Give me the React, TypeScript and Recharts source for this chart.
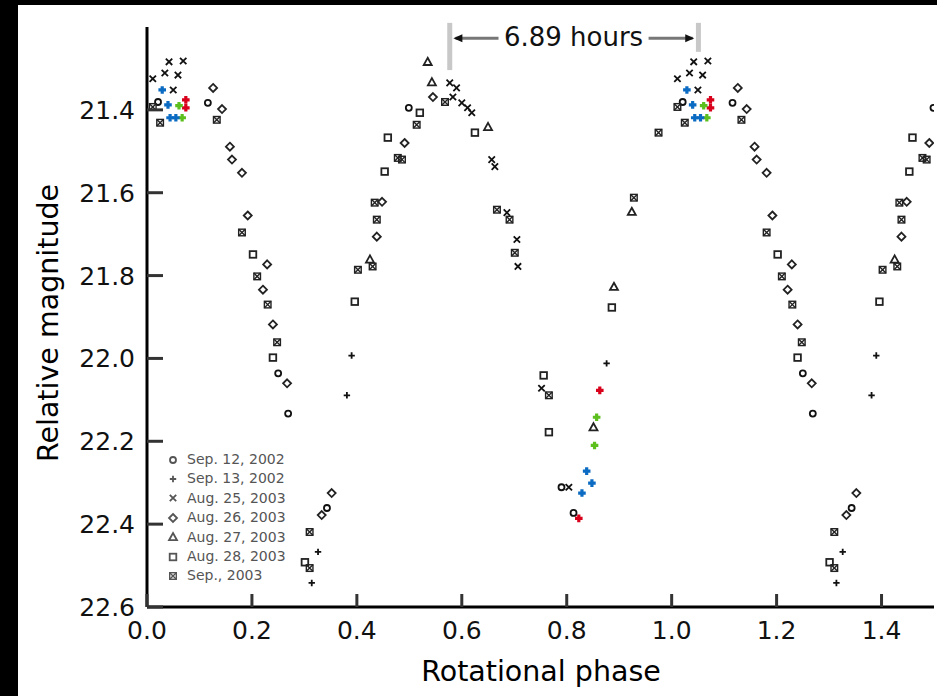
import React from 'react'
import { ScatterChart, Scatter, XAxis, YAxis, Legend, ReferenceLine, ReferenceDot } from 'recharts'

// [phase, relative magnitude] per night, folded on one rotation (0..1)
const sep12_2002: [number, number][] = [
  [0.813, 22.373], [0.269, 22.133], [0.021, 21.381], [0.116, 21.383],
  [0.343, 22.361], [0.25, 22.036], [0.499, 21.395], [0.79, 22.311],
]
const sep13_2002: [number, number][] = [
  [0.326, 22.467], [0.314, 22.542], [0.381, 22.089], [0.39, 21.993], [0.876, 22.012],
]
const aug25_2003: [number, number][] = [
  [0.042, 21.284], [0.069, 21.282], [0.034, 21.311], [0.059, 21.316], [0.011, 21.325],
  [0.05, 21.352], [0.577, 21.335], [0.59, 21.347], [0.583, 21.369], [0.6, 21.383],
  [0.611, 21.395], [0.619, 21.407], [0.657, 21.52], [0.663, 21.537], [0.686, 21.648],
  [0.705, 21.713], [0.707, 21.778], [0.752, 22.072], [0.804, 22.311],
]
const aug26_2003: [number, number][] = [
  [0.126, 21.347], [0.143, 21.398], [0.158, 21.489], [0.162, 21.52], [0.181, 21.552],
  [0.192, 21.655], [0.229, 21.773], [0.221, 21.834], [0.24, 21.918], [0.267, 22.06],
  [0.352, 22.325], [0.333, 22.378], [0.438, 21.706], [0.448, 21.622], [0.491, 21.48],
  [0.545, 21.369],
]
const aug27_2003: [number, number][] = [
  [0.535, 21.284], [0.65, 21.441], [0.851, 22.166], [0.89, 21.827], [0.924, 21.646],
  [0.543, 21.333], [0.425, 21.761],
]
const aug28_2003: [number, number][] = [
  [0.202, 21.749], [0.24, 21.998], [0.301, 22.492], [0.396, 21.863], [0.453, 21.549],
  [0.459, 21.467], [0.766, 22.178], [0.886, 21.877], [0.52, 21.407], [0.625, 21.455],
  [0.756, 22.041],
]
const sep_2003: [number, number][] = [
  [0.011, 21.393], [0.025, 21.431], [0.133, 21.424], [0.181, 21.696], [0.21, 21.802],
  [0.23, 21.87], [0.248, 21.961], [0.31, 22.419], [0.31, 22.506], [0.402, 21.786],
  [0.43, 21.778], [0.438, 21.665], [0.434, 21.624], [0.478, 21.516], [0.486, 21.52],
  [0.514, 21.436], [0.568, 21.381], [0.667, 21.641], [0.691, 21.665], [0.701, 21.745],
  [0.766, 22.089], [0.928, 21.612], [0.975, 21.455],
]
// colour highlighted points
const redPts: [number, number][] = [[0.074, 21.376], [0.074, 21.395], [0.823, 22.386], [0.863, 22.077]]
const greenPts: [number, number][] = [[0.061, 21.39], [0.067, 21.419], [0.853, 22.21], [0.857, 22.142]]
const bluePts: [number, number][] = [
  [0.029, 21.352], [0.04, 21.388], [0.044, 21.419], [0.055, 21.419],
  [0.829, 22.325], [0.848, 22.301], [0.838, 22.272],
]

const xTicks = [0, 0.2, 0.4, 0.6, 0.8, 1.0, 1.2, 1.4]
const yTicks = [21.4, 21.6, 21.8, 22.0, 22.2, 22.4, 22.6]

const legendItems = [
  { label: 'Sep. 12, 2002', kind: 'circle' },
  { label: 'Sep. 13, 2002', kind: 'plus' },
  { label: 'Aug. 25, 2003', kind: 'x' },
  { label: 'Aug. 26, 2003', kind: 'diamond' },
  { label: 'Aug. 27, 2003', kind: 'triangle' },
  { label: 'Aug. 28, 2003', kind: 'square' },
  { label: 'Sep., 2003', kind: 'boxx' },
]

const FONT = '"DejaVu Sans", sans-serif'
const MAX_PHASE = 1.5

// light curve is shown over 1.5 rotations: points repeat one phase later
const fold = (pts: [number, number][]) =>
  pts.flatMap(([p, m]) => (p + 1 <= MAX_PHASE ? [{ x: p, y: m }, { x: p + 1, y: m }] : [{ x: p, y: m }]))

function Mark({ kind, cx, cy, color = '#222' }: { kind: string; cx: number; cy: number; color?: string }) {
  const s = 3.2
  const sw = 1.8
  switch (kind) {
    case 'circle':
      return <circle cx={cx} cy={cy} r={3} fill="none" stroke={color} strokeWidth={sw} />
    case 'plus':
      return <path d={`M${cx - s},${cy}h${2 * s}M${cx},${cy - s}v${2 * s}`} stroke={color} strokeWidth={sw} />
    case 'x':
      return <path d={`M${cx - s},${cy - s}l${2 * s},${2 * s}M${cx - s},${cy + s}l${2 * s},${-2 * s}`} stroke={color} strokeWidth={sw} />
    case 'diamond':
      return <polygon points={`${cx},${cy - 4} ${cx + 4},${cy} ${cx},${cy + 4} ${cx - 4},${cy}`} fill="none" stroke={color} strokeWidth={sw} />
    case 'triangle':
      return <polygon points={`${cx},${cy - 4} ${cx + 4},${cy + 3.2} ${cx - 4},${cy + 3.2}`} fill="none" stroke={color} strokeWidth={sw} />
    case 'square':
      return <rect x={cx - 3.3} y={cy - 3.3} width={6.6} height={6.6} fill="none" stroke={color} strokeWidth={sw} />
    case 'boxx':
      return (
        <g stroke={color} strokeWidth={1.4} fill="none">
          <rect x={cx - 3.3} y={cy - 3.3} width={6.6} height={6.6} />
          <path d={`M${cx - 3.3},${cy - 3.3}l6.6,6.6M${cx - 3.3},${cy + 3.3}l6.6,-6.6`} />
        </g>
      )
    case 'cplus':
      return <path d={`M${cx - 3.8},${cy}h7.6M${cx},${cy - 3.8}v7.6`} stroke={color} strokeWidth={3.2} />
    default:
      return null
  }
}

const YTick = (props: any) => {
  const { x, y, payload } = props
  return (
    <g>
      <line x1={x + 12} x2={x + 28} y1={y} y2={y} stroke="#333" strokeWidth={3} />
      <text x={x} y={y} dy={9} textAnchor="end" fontFamily={FONT} fontSize={25} fill="#111">
        {payload.value.toFixed(1)}
      </text>
    </g>
  )
}

const XTick = (props: any) => {
  const { x, y, payload } = props
  return (
    <g>
      <line x1={x} x2={x} y1={y - 13} y2={y} stroke="#333" strokeWidth={3} />
      <text x={x} y={y + 32} textAnchor="middle" fontFamily={FONT} fontSize={25} fill="#111">
        {payload.value.toFixed(1)}
      </text>
    </g>
  )
}

const LegendBox = () => (
  <div style={{ fontFamily: FONT, fontSize: 14, color: '#555', lineHeight: '19.4px' }}>
    {legendItems.map((it) => (
      <div key={it.label} style={{ display: 'flex', alignItems: 'center', height: 19.4 }}>
        <svg width={16} height={14} style={{ marginRight: 6 }}>
          <Mark kind={it.kind} cx={8} cy={7} color="#555" />
        </svg>
        <span>{it.label}</span>
      </div>
    ))}
  </div>
)

const series = [
  { name: 'Sep. 12, 2002', data: sep12_2002, kind: 'circle', color: '#111' },
  { name: 'Sep. 13, 2002', data: sep13_2002, kind: 'plus', color: '#111' },
  { name: 'Aug. 25, 2003', data: aug25_2003, kind: 'x', color: '#111' },
  { name: 'Aug. 26, 2003', data: aug26_2003, kind: 'diamond', color: '#222' },
  { name: 'Aug. 27, 2003', data: aug27_2003, kind: 'triangle', color: '#222' },
  { name: 'Aug. 28, 2003', data: aug28_2003, kind: 'square', color: '#222' },
  { name: 'Sep., 2003', data: sep_2003, kind: 'boxx', color: '#222' },
  { name: 'red', data: redPts, kind: 'cplus', color: '#d8001a' },
  { name: 'green', data: greenPts, kind: 'cplus', color: '#5cbf1e' },
  { name: 'blue', data: bluePts, kind: 'cplus', color: '#0b6bc2' },
]

export default function App() {
  return (
    <div style={{ position: 'absolute', left: 0, top: 0, width: 937, height: 696, background: '#000', overflow: 'hidden' }}>
      <div style={{ position: 'absolute', left: 18, top: 5, right: 0, bottom: 0, background: '#fff' }} />
      <div style={{ position: 'absolute', left: 0, top: 0 }}>
        <ScatterChart width={937} height={696} margin={{ top: 27, right: 3, left: 47, bottom: 29 }}>
          <XAxis
            type="number"
            dataKey="x"
            domain={[0, MAX_PHASE]}
            ticks={xTicks}
            height={60}
            axisLine={{ stroke: '#000', strokeWidth: 3 }}
            tickLine={false}
            tickSize={0}
            tickMargin={0}
            tick={<XTick />}
            allowDataOverflow
            label={() => (
              <text x={541} y={681} textAnchor="middle" fontFamily={FONT} fontSize={28.5} fill="#000">
                Rotational phase
              </text>
            )}
          />
          <YAxis
            type="number"
            dataKey="y"
            domain={[21.2, 22.6]}
            reversed
            ticks={yTicks}
            width={100}
            axisLine={{ stroke: '#000', strokeWidth: 3 }}
            tickLine={false}
            tickSize={0}
            tickMargin={12}
            tick={<YTick />}
            allowDataOverflow
            label={() => (
              <text x={58} y={323} transform="rotate(-90, 58, 323)" textAnchor="middle" fontFamily={FONT} fontSize={28.5} fill="#000">
                Relative magnitude
              </text>
            )}
          />
          <Legend
            layout="vertical"
            align="center"
            verticalAlign="middle"
            content={<LegendBox />}
            wrapperStyle={{ left: 165, top: 450, width: 160, height: 140 }}
          />
          {series.map((s) => (
            <Scatter
              key={s.name}
              name={s.name}
              data={fold(s.data)}
              isAnimationActive={false}
              shape={(p: any) => <Mark kind={s.kind} cx={p.cx} cy={p.cy} color={s.color} />}
            />
          ))}
          {/* period annotation */}
          <ReferenceLine segment={[{ x: 0.577, y: 21.19 }, { x: 0.577, y: 21.304 }]} stroke="#c8c8c8" strokeWidth={5} ifOverflow="visible" />
          <ReferenceLine segment={[{ x: 1.051, y: 21.19 }, { x: 1.051, y: 21.26 }]} stroke="#c8c8c8" strokeWidth={5} ifOverflow="visible" />
          <ReferenceLine segment={[{ x: 0.588, y: 21.227 }, { x: 0.67, y: 21.227 }]} stroke="#777" strokeWidth={3} ifOverflow="visible" />
          <ReferenceLine segment={[{ x: 0.956, y: 21.227 }, { x: 1.04, y: 21.227 }]} stroke="#777" strokeWidth={3} ifOverflow="visible" />
          <ReferenceDot
            x={0.584}
            y={21.227}
            ifOverflow="visible"
            shape={(p: any) => <polygon points={`${p.cx},${p.cy} ${p.cx + 9},${p.cy - 4} ${p.cx + 9},${p.cy + 4}`} fill="#111" />}
          />
          <ReferenceDot
            x={1.043}
            y={21.227}
            ifOverflow="visible"
            shape={(p: any) => <polygon points={`${p.cx},${p.cy} ${p.cx - 9},${p.cy - 4} ${p.cx - 9},${p.cy + 4}`} fill="#111" />}
          />
          <ReferenceDot
            x={0.813}
            y={21.227}
            ifOverflow="visible"
            shape={(p: any) => (
              <text x={p.cx} y={p.cy + 8} textAnchor="middle" fontFamily={FONT} fontSize={26} fill="#111">
                6.89 hours
              </text>
            )}
          />
        </ScatterChart>
      </div>
    </div>
  )
}
